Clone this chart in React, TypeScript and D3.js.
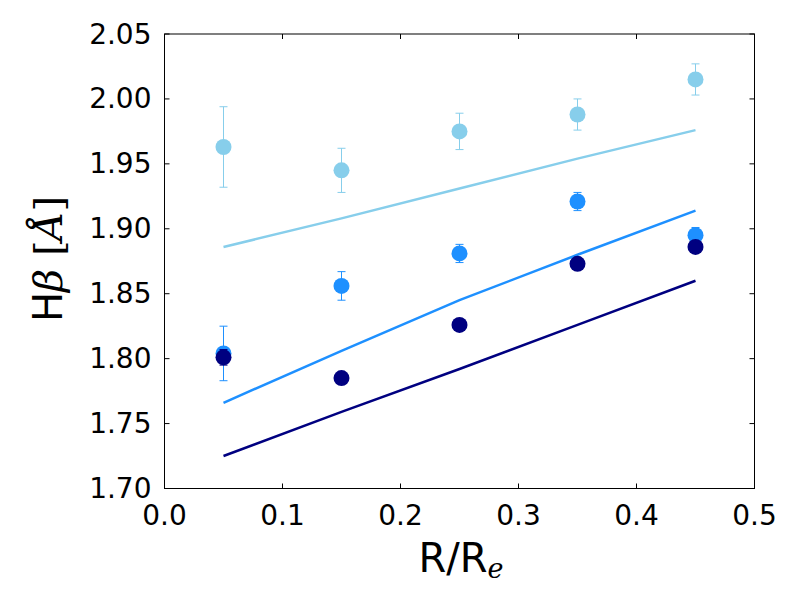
import React, { useEffect, useRef } from 'react';
import * as d3 from 'd3';

const radii = [0.05, 0.15, 0.25, 0.35, 0.45];

// observed points with errors
const lightObs = [1.963, 1.945, 1.975, 1.988, 2.015];
const lightErr = [0.031, 0.017, 0.014, 0.012, 0.012];
const midObs = [1.804, 1.856, 1.881, 1.921, 1.895];
const midErr = [0.021, 0.011, 0.007, 0.007, 0.006];
const darkObs = [1.801, 1.785, 1.826, 1.873, 1.886];
const darkErr = [0.006, 0.0, 0.0, 0.0, 0.004];

// model lines
const lightModel = [1.886, 1.908, 1.931, 1.954, 1.976];
const midModel = [1.766, 1.806, 1.845, 1.880, 1.914];
const darkModel = [1.725, 1.759, 1.792, 1.826, 1.860];

const xTicks = [0, 0.1, 0.2, 0.3, 0.4, 0.5];
const yTicks = [1.70, 1.75, 1.80, 1.85, 1.90, 1.95, 2.00, 2.05];

const series = [
  { color: '#87CEEB', obs: lightObs, err: lightErr, model: lightModel },
  { color: '#1E90FF', obs: midObs, err: midErr, model: midModel },
  { color: '#000080', obs: darkObs, err: darkErr, model: darkModel },
];

export default function App() {
  const svgRef = useRef<SVGSVGElement>(null);

  useEffect(() => {
    if (!svgRef.current) return;
    const svg = d3.select(svgRef.current);
    svg.selectAll('*').remove();

    const left = 164.5, right = 754.5, top = 34, bottom = 488.5;
    const x = d3.scaleLinear().domain([0, 0.5]).range([left, right]);
    const y = d3.scaleLinear().domain([1.70, 2.05]).range([bottom, top]);
    const font = 'DejaVu Sans, sans-serif';
    const serif = 'DejaVu Serif, serif';

    // model lines
    const line = d3.line<number>()
      .x((_: number, i: number) => x(radii[i]))
      .y((d: number) => y(d));
    series.forEach(s => {
      svg.append('path')
        .datum(s.model)
        .attr('fill', 'none')
        .attr('stroke', s.color)
        .attr('stroke-width', 2.5)
        .attr('d', line);
    });

    // error bars and points
    series.forEach(s => {
      const g = svg.append('g');
      s.obs.forEach((v, i) => {
        const e = s.err[i];
        if (e > 0) {
          const cx = x(radii[i]);
          g.append('line').attr('x1', cx).attr('x2', cx)
            .attr('y1', y(v - e)).attr('y2', y(v + e))
            .attr('stroke', s.color).attr('stroke-width', 1);
          [v - e, v + e].forEach(c => {
            g.append('line').attr('x1', cx - 4).attr('x2', cx + 4)
              .attr('y1', y(c)).attr('y2', y(c))
              .attr('stroke', s.color).attr('stroke-width', 1);
          });
        }
      });
      g.selectAll('circle')
        .data(s.obs)
        .enter()
        .append('circle')
        .attr('cx', (_: number, i: number) => x(radii[i]))
        .attr('cy', (d: number) => y(d))
        .attr('r', 8)
        .attr('fill', s.color);
    });

    // frame
    svg.append('rect')
      .attr('x', left).attr('y', top)
      .attr('width', right - left).attr('height', bottom - top)
      .attr('fill', 'none').attr('stroke', '#000').attr('stroke-width', 1);

    // ticks (inward, all sides)
    const tl = 5;
    xTicks.forEach(t => {
      svg.append('line').attr('x1', x(t)).attr('x2', x(t))
        .attr('y1', bottom).attr('y2', bottom - tl).attr('stroke', '#000');
      svg.append('line').attr('x1', x(t)).attr('x2', x(t))
        .attr('y1', top).attr('y2', top + tl).attr('stroke', '#000');
      svg.append('text').attr('x', x(t)).attr('y', bottom + 36)
        .attr('text-anchor', 'middle').attr('font-family', font)
        .attr('font-size', 28).text(d3.format('.1f')(t));
    });
    yTicks.forEach(t => {
      svg.append('line').attr('x1', left).attr('x2', left + tl)
        .attr('y1', y(t)).attr('y2', y(t)).attr('stroke', '#000');
      svg.append('line').attr('x1', right).attr('x2', right - tl)
        .attr('y1', y(t)).attr('y2', y(t)).attr('stroke', '#000');
      svg.append('text').attr('x', left - 13).attr('y', y(t) + 9.5)
        .attr('text-anchor', 'end').attr('font-family', font)
        .attr('font-size', 28).text(d3.format('.2f')(t));
    });

    // x label
    const xl = svg.append('text')
      .attr('x', 461).attr('y', 572)
      .attr('text-anchor', 'middle').attr('font-family', font)
      .attr('font-size', 40);
    xl.append('tspan').text('R/R');
    xl.append('tspan').attr('font-family', serif)
      .attr('font-style', 'italic').attr('font-size', 27)
      .attr('dy', 6).text('e');

    // y label
    const yl = svg.append('text')
      .attr('transform', `translate(62, 259) rotate(-90)`)
      .attr('text-anchor', 'middle').attr('font-family', font)
      .attr('font-size', 40);
    yl.append('tspan').text('H');
    yl.append('tspan').attr('font-family', serif)
      .attr('font-style', 'italic').text('β');
    yl.append('tspan').attr('font-family', serif).text(' [');
    yl.append('tspan').attr('font-family', serif)
      .attr('font-style', 'italic').text('Å');
    yl.append('tspan').attr('font-family', serif).text(']');
  }, []);

  return (
    <svg ref={svgRef} width={800} height={600}
      style={{ position: 'absolute', left: 0, top: 0, background: '#fff' }} />
  );
}
